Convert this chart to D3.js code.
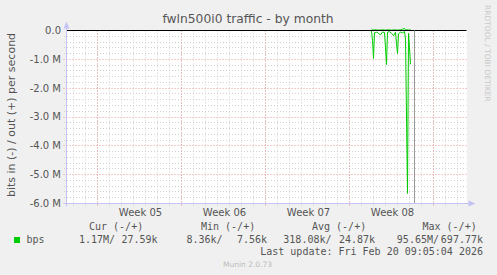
<!DOCTYPE html>
<html>
<head>
<meta charset="utf-8">
<script src="https://cdn.jsdelivr.net/npm/d3@7"></script>
<style>
  body { margin: 0; background: #f0f0f0; }
  text { font-family: "DejaVu Sans", sans-serif; fill: #555; }
  .mono { font-family: "DejaVu Sans Mono", monospace; white-space: pre; }
</style>
</head>
<body>
<svg id="figure"></svg>
<script>
var fullWidth = 497, fullHeight = 275;

// time axis (UTC), one pixel is two hours
var timeStart = "2026-01-23T10:00:00Z";
var timeEnd   = "2026-02-25T18:00:00Z";
var weekLabels = ["Week 05", "Week 06", "Week 07", "Week 08"];
var weekStarts = ["2026-01-26", "2026-02-02", "2026-02-09", "2026-02-16"];
var nowMarker  = "2026-02-21T10:00:00Z";

var yTicks = [0, -1e6, -2e6, -3e6, -4e6, -5e6, -6e6];
var yTickLabels = ["0.0", "-1.0 M", "-2.0 M", "-3.0 M", "-4.0 M", "-5.0 M", "-6.0 M"];

// samples, bits per second
var sampleTimes = [
  "2026-02-17T20:00", "2026-02-17T22:00", "2026-02-18T00:00", "2026-02-18T02:00",
  "2026-02-18T06:00", "2026-02-18T10:00", "2026-02-18T14:00", "2026-02-18T18:00",
  "2026-02-18T22:00", "2026-02-19T00:00", "2026-02-19T02:00", "2026-02-19T04:00",
  "2026-02-19T08:00", "2026-02-19T12:00", "2026-02-19T16:00", "2026-02-19T20:00",
  "2026-02-19T22:00", "2026-02-20T00:00", "2026-02-20T02:00", "2026-02-20T06:00",
  "2026-02-20T10:00", "2026-02-20T14:00", "2026-02-20T16:00", "2026-02-20T18:00",
  "2026-02-20T20:00", "2026-02-20T22:00", "2026-02-21T00:00", "2026-02-21T02:00"
];
var inValues = [
  20e3, 350e3, 970e3, 80e3,
  60e3, 90e3, 160e3, 50e3,
  70e3, 600e3, 1180e3, 60e3,
  40e3, 100e3, 180e3, 60e3,
  450e3, 800e3, 120e3, 50e3,
  80e3, 40e3, 300e3, 3000e3,
  5650e3, 100e3, 600e3, 1170e3
];
var outValues = [
  60e3, 30e3, 20e3, 25e3,
  20e3, 15e3, 20e3, 25e3,
  20e3, 15e3, 20e3, 25e3,
  20e3, 15e3, 20e3, 25e3,
  20e3, 15e3, 20e3, 25e3,
  50e3, 70e3, 20e3, 25e3,
  30e3, 20e3, 25e3, 28e3
];

var legendHeaders = ["Cur (-/+)", "Min (-/+)", "Avg (-/+)", "Max (-/+)"];
var legendIn  = ["1.17M/", "8.36k/", "318.08k/", "95.65M/"];
var legendOut = ["27.59k", "7.56k", "24.87k", "697.77k"];

var svg = d3.select("#figure").attr("width", fullWidth).attr("height", fullHeight);

var parseT = d3.utcParse("%Y-%m-%dT%H:%M");
var xRange = d3.scaleUtc().domain([new Date(timeStart), new Date(timeEnd)]).range([66.5, 466.5]);
var yRange = d3.scaleLinear().domain([-6e6, 0]).range([203.5, 30.5]);
var px = function (v) { return Math.round(v - 0.5) + 0.5; };

var plotLeft = 66.5, plotRight = 466.5, plotTop = 30.5, plotBottom = 203.5;

// plot background
svg.append("rect").attr("x", 67).attr("y", 30).attr("width", 400).attr("height", 174).attr("fill", "#fff");

// minor grid
var days = d3.utcDay.range(xRange.domain()[0], xRange.domain()[1]);
var mondays = weekStarts.map(function (d) { return new Date(d + "T00:00:00Z"); });
mondays.push(d3.utcWeek.offset(mondays[mondays.length - 1], 1));
var minorY = d3.range(1, 30).map(function (i) { return -i * 2e5; }).filter(function (v, i) { return (i + 1) % 5 != 0; });

var grid = svg.append("g");
grid.selectAll(".vmin").data(days).enter().append("line")
  .attr("x1", function (d) { return px(xRange(d)); }).attr("x2", function (d) { return px(xRange(d)); })
  .attr("y1", plotTop).attr("y2", plotBottom + 2.5)
  .attr("stroke", "#d0d0d0").attr("stroke-dasharray", "1,2");
grid.selectAll(".hmin").data(minorY).enter().append("line")
  .attr("y1", function (d) { return px(yRange(d)); }).attr("y2", function (d) { return px(yRange(d)); })
  .attr("x1", plotLeft - 2.5).attr("x2", plotRight)
  .attr("stroke", "#d0d0d0").attr("stroke-dasharray", "1,2");
// major grid
grid.selectAll(".vmaj").data(mondays).enter().append("line")
  .attr("x1", function (d) { return px(xRange(d)); }).attr("x2", function (d) { return px(xRange(d)); })
  .attr("y1", plotTop).attr("y2", plotBottom + 3)
  .attr("stroke", "#e89a9a").attr("stroke-dasharray", "1,2");
grid.selectAll(".hmaj").data(yTicks.slice(1, 6)).enter().append("line")
  .attr("y1", function (d) { return px(yRange(d)); }).attr("y2", function (d) { return px(yRange(d)); })
  .attr("x1", plotLeft - 3).attr("x2", plotRight)
  .attr("stroke", "#e89a9a").attr("stroke-dasharray", "1,2");

// data
var clip = svg.append("clipPath").attr("id", "plotclip");
clip.append("rect").attr("x", 66).attr("y", 28).attr("width", 401).attr("height", 176);

var samples = sampleTimes.map(function (t, i) {
  return { t: parseT(t), inV: inValues[i], outV: outValues[i] };
});

var inLine = d3.line().x(function (d) { return xRange(d.t); }).y(function (d) { return yRange(-d.inV); })(samples);
var outLine = d3.line().x(function (d) { return xRange(d.t); }).y(function (d) { return yRange(d.outV); })(samples);

var plot = svg.append("g").attr("clip-path", "url(#plotclip)");
plot.append("path").attr("d", outLine).attr("stroke", "#00cc00").attr("stroke-width", 1).attr("fill", "none");
plot.append("path").attr("d", inLine).attr("stroke", "#00cc00").attr("stroke-width", 1).attr("fill", "none");

// zero rule and current time
svg.append("line").attr("x1", plotLeft).attr("x2", plotRight).attr("y1", yRange(0)).attr("y2", yRange(0))
  .attr("stroke", "#000");
svg.append("line").attr("x1", px(xRange(new Date(nowMarker)))).attr("x2", px(xRange(new Date(nowMarker))))
  .attr("y1", plotTop).attr("y2", plotBottom).attr("stroke", "#999");

// axes
var axisColor = "#c4c4f4";
svg.append("line").attr("x1", plotLeft).attr("x2", plotLeft).attr("y1", plotBottom + 3).attr("y2", 26).attr("stroke", axisColor);
svg.append("path").attr("d", "M63.5,28.5 L66.5,21.5 L69.5,28.5 Z").attr("fill", axisColor);
svg.append("line").attr("x1", plotLeft - 3).attr("x2", 470).attr("y1", plotBottom).attr("y2", plotBottom).attr("stroke", axisColor);
svg.append("path").attr("d", "M468.5,200.5 L475.5,203.5 L468.5,206.5 Z").attr("fill", axisColor);

// y tick labels
svg.selectAll(".ylab").data(yTicks).enter().append("text")
  .attr("x", 61).attr("y", function (d) { return yRange(d) + 3.4; })
  .attr("text-anchor", "end").attr("font-size", "10px")
  .text(function (d, i) { return yTickLabels[i]; });

// x labels, centred on the week
svg.selectAll(".xlab").data(weekLabels).enter().append("text")
  .attr("x", function (d, i) { return xRange(d3.utcHour.offset(mondays[i], 86)); })
  .attr("y", 216).attr("text-anchor", "middle").attr("font-size", "10px")
  .text(function (d) { return d; });

// title and labels
svg.append("text").text("fwln500i0 traffic - by month")
  .attr("x", 248).attr("y", 22.5).attr("text-anchor", "middle").attr("font-size", "12.3px");
svg.append("text").text("bits in (-) / out (+) per second")
  .attr("transform", "translate(15.3,115) rotate(-90)").attr("text-anchor", "middle").attr("font-size", "11px");
svg.append("text").text("RRDTOOL / TOBI OETIKER")
  .attr("transform", "translate(485,5) rotate(90)").attr("font-size", "7.5px").style("fill", "#c8c8c8");

// legend
var headerX = [89, 201, 312, 422.5];
var inEndX = [115, 222.5, 331.5, 439];
var outEndX = [157.5, 267, 375, 483];
svg.selectAll(".lh").data(legendHeaders).enter().append("text").attr("class", "mono")
  .attr("x", function (d, i) { return headerX[i]; }).attr("y", 230).attr("font-size", "10px")
  .text(function (d) { return d; });
svg.append("rect").attr("x", 14).attr("y", 237).attr("width", 6).attr("height", 6).attr("fill", "#00cc00");
svg.append("text").attr("class", "mono").attr("x", 26.5).attr("y", 242.5).attr("font-size", "10px").text("bps");
svg.selectAll(".li").data(legendIn).enter().append("text").attr("class", "mono")
  .attr("x", function (d, i) { return inEndX[i]; }).attr("y", 242.5).attr("text-anchor", "end").attr("font-size", "10px")
  .text(function (d) { return d; });
svg.selectAll(".lo").data(legendOut).enter().append("text").attr("class", "mono")
  .attr("x", function (d, i) { return outEndX[i]; }).attr("y", 242.5).attr("text-anchor", "end").attr("font-size", "10px")
  .text(function (d) { return d; });
svg.append("text").attr("class", "mono").attr("x", 483).attr("y", 254.5).attr("text-anchor", "end")
  .attr("font-size", "10px").text("Last update: Fri Feb 20 09:05:04 2026");
svg.append("text").text("Munin 2.0.73").attr("x", 247.5).attr("y", 267).attr("text-anchor", "middle")
  .attr("font-size", "7.5px").style("fill", "#bbb");
</script>
</body>
</html>
